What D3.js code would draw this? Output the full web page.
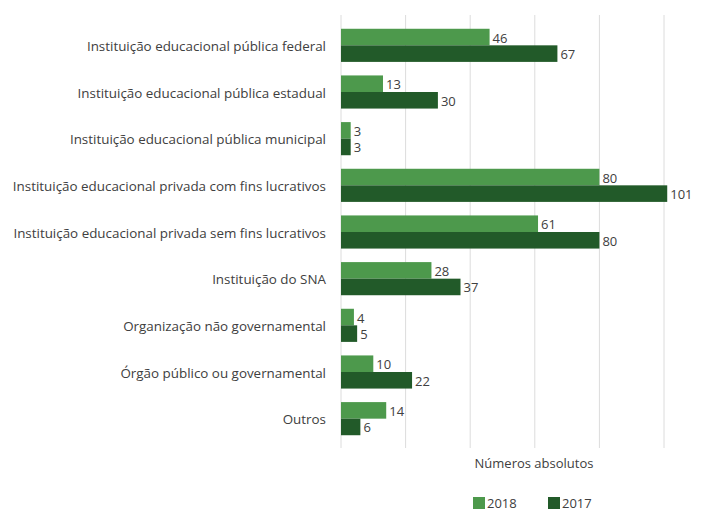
<!DOCTYPE html>
<html>
<head>
<meta charset="utf-8">
<script src="https://cdn.jsdelivr.net/npm/d3@7"></script>
<style>
  html, body { margin: 0; padding: 0; background: #fff; }
  svg { display: block; font-family: "Open Sans", "Noto Sans", sans-serif; }
</style>
</head>
<body>
<svg id="chart" width="715" height="514"></svg>
<script>
const categories = [
  "Instituição educacional pública federal",
  "Instituição educacional pública estadual",
  "Instituição educacional pública municipal",
  "Instituição educacional privada com fins lucrativos",
  "Instituição educacional privada sem fins lucrativos",
  "Instituição do SNA",
  "Organização não governamental",
  "Órgão público ou governamental",
  "Outros"
];
const seriesNames = ["2018", "2017"];
const values2018 = [46, 13, 3, 80, 61, 28, 4, 10, 14];
const values2017 = [67, 30, 3, 101, 80, 37, 5, 22, 6];
const gridTicks = [0, 20, 40, 60, 80, 100];
const colors = ["#4d994c", "#225a29"];

const svg = d3.select("#chart");
const plotLeft = 341, plotRight = 664;
const plotTop = 22, plotBottom = 442;
const textColor = "#404040";

const x = d3.scaleLinear().domain([0, 100]).range([plotLeft, plotRight]);
const y = d3.scaleBand().domain(categories).range([plotTop, plotBottom]).paddingInner(0.29).paddingOuter(0.145);
const sub = d3.scaleBand().domain(seriesNames).range([0, y.bandwidth()]);
const color = d3.scaleOrdinal().domain(seriesNames).range(colors);

// vertical grid lines
svg.append("g")
  .selectAll("line")
  .data(gridTicks)
  .join("line")
  .attr("x1", d => x(d)).attr("x2", d => x(d))
  .attr("y1", 15).attr("y2", 448)
  .attr("stroke", "#dcdcdc")
  .attr("stroke-width", 1);

// category labels
const yAxis = d3.axisLeft(y).tickSize(0).tickPadding(15);
const ga = svg.append("g").attr("transform", `translate(${plotLeft},1.5)`).call(yAxis);
ga.select(".domain").remove();
ga.selectAll("text")
  .attr("font-size", 13.4)
  .attr("font-family", "\"Open Sans\", sans-serif")
  .attr("fill", textColor);

const rows = categories.map((c, i) => ({ cat: c, vals: [values2018[i], values2017[i]] }));

const groups = svg.append("g")
  .selectAll("g")
  .data(rows)
  .join("g")
  .attr("transform", d => `translate(0,${y(d.cat)})`);

groups.selectAll("rect")
  .data(d => d.vals.map((v, j) => ({ key: seriesNames[j], v })))
  .join("rect")
  .attr("x", x(0))
  .attr("y", d => sub(d.key))
  .attr("width", d => x(d.v) - x(0))
  .attr("height", sub.bandwidth())
  .attr("fill", d => color(d.key));

groups.selectAll("text")
  .data(d => d.vals.map((v, j) => ({ key: seriesNames[j], v })))
  .join("text")
  .attr("x", d => x(d.v) + 3)
  .attr("y", d => sub(d.key) + sub.bandwidth() / 2 + 1)
  .attr("dy", "0.35em")
  .attr("font-size", 13)
  .attr("fill", textColor)
  .text(d => d.v);

// axis title
svg.append("text")
  .attr("x", 534).attr("y", 468)
  .attr("text-anchor", "middle")
  .attr("font-size", 13)
  .attr("fill", textColor)
  .text("Números absolutos");

// legend
const legend = svg.append("g")
  .selectAll("g")
  .data(seriesNames)
  .join("g")
  .attr("transform", (d, i) => `translate(${473 + i * 75},497)`);
legend.append("rect")
  .attr("width", 12).attr("height", 12)
  .attr("fill", d => color(d));
legend.append("text")
  .attr("x", 14).attr("y", 11)
  .attr("font-size", 13)
  .attr("fill", textColor)
  .text(d => d);
</script>
</body>
</html>
